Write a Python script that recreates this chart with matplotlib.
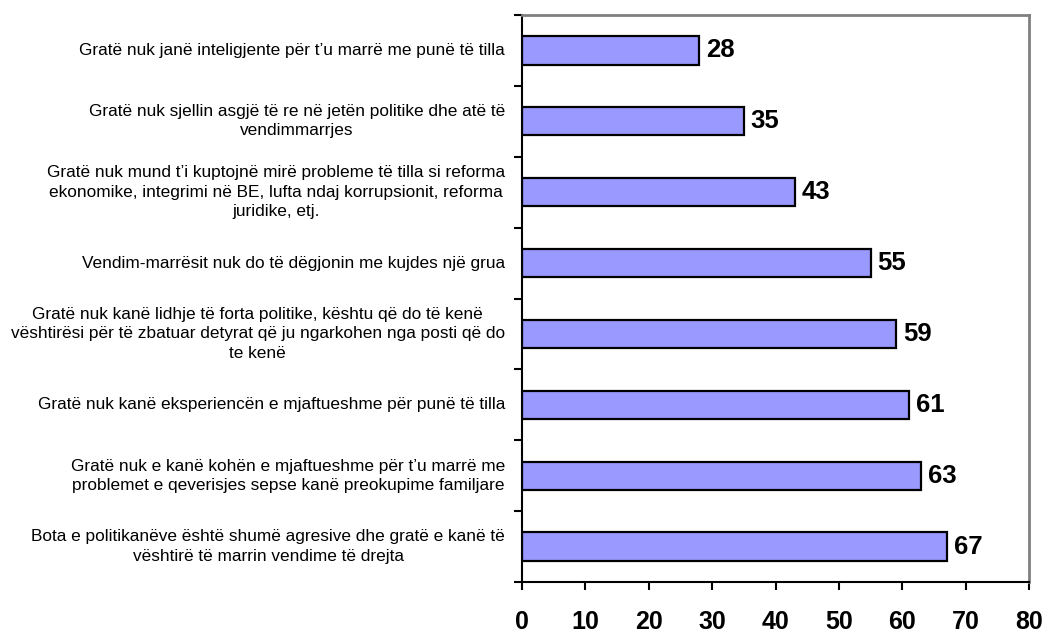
import matplotlib
matplotlib.use('Agg')
import matplotlib.pyplot as plt
import numpy as np

plt.rcParams['font.family'] = ['Liberation Sans', 'DejaVu Sans']

# categories top to bottom
labels = [
    "Gratë nuk janë inteligjente për t’u marrë me punë të tilla",
    "Gratë nuk sjellin asgjë të re në jetën politike dhe atë të\nvendimmarrjes",
    "Gratë nuk mund t’i kuptojnë mirë probleme të tilla si reforma\nekonomike, integrimi në BE, lufta ndaj korrupsionit, reforma\njuridike, etj.",
    "Vendim-marrësit nuk do të dëgjonin me kujdes një grua",
    "Gratë nuk kanë lidhje të forta politike, kështu që do të kenë\nvështirësi për të zbatuar detyrat që ju ngarkohen nga posti që do\nte kenë",
    "Gratë nuk kanë eksperiencën e mjaftueshme për punë të tilla",
    "Gratë nuk e kanë kohën e mjaftueshme për t’u marrë me\nproblemet e qeverisjes sepse kanë preokupime familjare",
    "Bota e politikanëve është shumë agresive dhe gratë e kanë të\nvështirë të marrin vendime të drejta",
]
values = [28, 35, 43, 55, 59, 61, 63, 67]
xticks = [0, 10, 20, 30, 40, 50, 60, 70, 80]

fig = plt.figure(figsize=(10.47, 6.32), dpi=100)
ax = fig.add_axes([522 / 1047, 1 - 582 / 632, 507 / 1047, 567 / 632])

n = len(values)
ypos = np.arange(n)
ax.barh(ypos, values, height=0.4, color='#9999FF', edgecolor='black', linewidth=1.6)
for y, v in zip(ypos, values):
    ax.text(v + 1.1, y, str(v), va='center', ha='left', fontsize=18.5, fontweight='bold')

ax.set_ylim(n - 0.5, -0.5)
ax.set_xlim(0, 80)

# category label text to the left of the axes
for y, lab in zip(ypos, labels):
    ax.text(-2.7, y, lab, ha='right', va='center', multialignment='center',
            fontsize=12.4, linespacing=1.35, transform=ax.transData, clip_on=False)

ax.set_yticks(np.arange(-0.5, n, 1))
ax.set_yticklabels([])
ax.tick_params(axis='y', direction='out', length=6, width=1.5)
ax.set_xticks(xticks)
ax.set_xticklabels([str(t) for t in xticks], fontsize=18, fontweight='bold')
ax.tick_params(axis='x', direction='out', length=6, width=1.5, pad=14)

ax.spines['left'].set_linewidth(1.5)
ax.spines['bottom'].set_linewidth(1.5)
ax.spines['top'].set_color('#808080')
ax.spines['right'].set_color('#808080')
ax.spines['top'].set_linewidth(2)
ax.spines['right'].set_linewidth(2)

fig.savefig('out.png', dpi=100)
